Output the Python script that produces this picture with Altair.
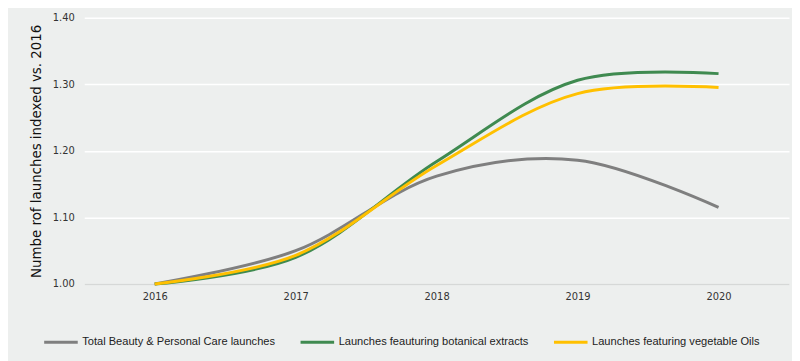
import altair as alt
import pandas as pd

years = ["2016", "2017", "2018", "2019", "2020"]
series_names = [
    "Total Beauty & Personal Care launches",
    "Launches feauturing botanical extracts",
    "Launches featuring vegetable Oils",
]
total_vals = [1.00, 1.050, 1.162, 1.186, 1.115]
botanical_vals = [1.00, 1.040, 1.184, 1.306, 1.316]
vegetable_vals = [1.00, 1.043, 1.178, 1.286, 1.295]
colors = ["#7F7F7F", "#3F8A50", "#FFC000"]

rows = []
for i, (name, vals) in enumerate(zip(series_names, [total_vals, botanical_vals, vegetable_vals])):
    for y, v in zip(years, vals):
        rows.append({"Year": y, "Value": v, "Series": name, "order": i})
df = pd.DataFrame(rows)

font = "DejaVu Sans"

chart = alt.Chart(df).mark_line(interpolate="catmull-rom", strokeWidth=3).encode(
    x=alt.X("Year:O", sort=years,
            scale=alt.Scale(type="point", padding=0.5),
            axis=alt.Axis(title=None, labelAngle=0, ticks=False, domain=True,
                          domainColor="#D6D8D7", domainWidth=1.5, grid=False,
                          labelFont=font, labelFontSize=10, labelColor="#333333",
                          labelPadding=8)),
    y=alt.Y("Value:Q",
            scale=alt.Scale(domain=[1.0, 1.4], nice=False, zero=False),
            axis=alt.Axis(title="Numbe rof launches indexed vs. 2016", values=[1.0, 1.1, 1.2, 1.3, 1.4],
                          format=".2f", domain=False, ticks=False, grid=True,
                          gridColor="#FFFFFF", gridWidth=1.5,
                          labelFont=font, labelFontSize=10, labelColor="#333333",
                          labelPadding=10, titleFont=font, titleFontSize=13.5,
                          titleFontWeight="normal", titleColor="#111111", titlePadding=9)),
    color=alt.Color("Series:N", sort=series_names,
                    scale=alt.Scale(domain=series_names, range=colors),
                    legend=alt.Legend(title=None, orient="none", direction="horizontal",
                                      legendX=-42, legendY=309, labelLimit=0,
                                      symbolType="stroke", symbolStrokeWidth=3, symbolSize=1150,
                                      labelFont="Liberation Sans", labelFontSize=11.2,
                                      labelColor="#222222", columnPadding=19, labelOffset=3)),
    order=alt.Order("order:Q"),
    detail="Series:N",
).properties(
    width=712, height=269,
    autosize=alt.AutoSizeParams(type="none"),
    padding={"left": 77, "top": 8, "right": 3, "bottom": 76},
    background="#EDEFEE",
).configure_view(stroke=None)

chart.save("out.html", embed_options={"renderer": "svg", "actions": False})
